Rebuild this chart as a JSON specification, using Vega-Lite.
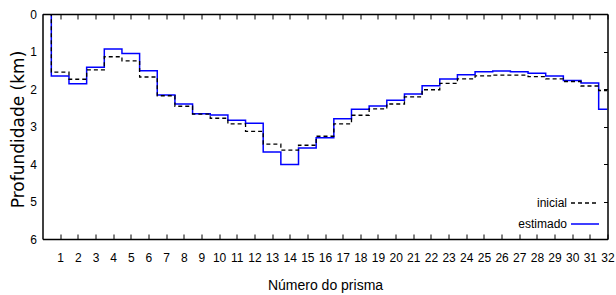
{
  "$schema": "https://vega.github.io/schema/vega-lite/v6.json",
  "width": 565,
  "height": 225,
  "autosize": {"type": "none"},
  "padding": {"left": 42.5, "top": 14, "right": 8.5, "bottom": 56},
  "background": "white",
  "config": {
    "view": {"stroke": null},
    "axis": {"grid": false, "domainColor": "#000000", "domainWidth": 1.5, "tickColor": "#000000", "tickWidth": 1, "labelColor": "#000000", "titleColor": "#000000", "labelFont": "Liberation Sans", "labelFontSize": 12, "titleFontWeight": "normal"}
  },
  "data": {
    "values": [
      {"prisma": 0, "serie": "estimado", "prof": 0},
      {"prisma": 1, "serie": "estimado", "prof": 1.65},
      {"prisma": 2, "serie": "estimado", "prof": 1.86},
      {"prisma": 3, "serie": "estimado", "prof": 1.42},
      {"prisma": 4, "serie": "estimado", "prof": 0.93},
      {"prisma": 5, "serie": "estimado", "prof": 1.05},
      {"prisma": 6, "serie": "estimado", "prof": 1.51},
      {"prisma": 7, "serie": "estimado", "prof": 2.16},
      {"prisma": 8, "serie": "estimado", "prof": 2.40},
      {"prisma": 9, "serie": "estimado", "prof": 2.66},
      {"prisma": 10, "serie": "estimado", "prof": 2.69},
      {"prisma": 11, "serie": "estimado", "prof": 2.83},
      {"prisma": 12, "serie": "estimado", "prof": 2.91},
      {"prisma": 13, "serie": "estimado", "prof": 3.68},
      {"prisma": 14, "serie": "estimado", "prof": 4.01},
      {"prisma": 15, "serie": "estimado", "prof": 3.57},
      {"prisma": 16, "serie": "estimado", "prof": 3.30},
      {"prisma": 17, "serie": "estimado", "prof": 2.79},
      {"prisma": 18, "serie": "estimado", "prof": 2.54},
      {"prisma": 19, "serie": "estimado", "prof": 2.45},
      {"prisma": 20, "serie": "estimado", "prof": 2.30},
      {"prisma": 21, "serie": "estimado", "prof": 2.13},
      {"prisma": 22, "serie": "estimado", "prof": 1.91},
      {"prisma": 23, "serie": "estimado", "prof": 1.73},
      {"prisma": 24, "serie": "estimado", "prof": 1.62},
      {"prisma": 25, "serie": "estimado", "prof": 1.54},
      {"prisma": 26, "serie": "estimado", "prof": 1.52},
      {"prisma": 27, "serie": "estimado", "prof": 1.54},
      {"prisma": 28, "serie": "estimado", "prof": 1.58},
      {"prisma": 29, "serie": "estimado", "prof": 1.65},
      {"prisma": 30, "serie": "estimado", "prof": 1.77},
      {"prisma": 31, "serie": "estimado", "prof": 1.84},
      {"prisma": 32, "serie": "estimado", "prof": 2.54},
      {"prisma": 0, "serie": "inicial", "prof": 0},
      {"prisma": 1, "serie": "inicial", "prof": 1.55},
      {"prisma": 2, "serie": "inicial", "prof": 1.74},
      {"prisma": 3, "serie": "inicial", "prof": 1.49},
      {"prisma": 4, "serie": "inicial", "prof": 1.14},
      {"prisma": 5, "serie": "inicial", "prof": 1.25},
      {"prisma": 6, "serie": "inicial", "prof": 1.68},
      {"prisma": 7, "serie": "inicial", "prof": 2.18},
      {"prisma": 8, "serie": "inicial", "prof": 2.46},
      {"prisma": 9, "serie": "inicial", "prof": 2.67},
      {"prisma": 10, "serie": "inicial", "prof": 2.78},
      {"prisma": 11, "serie": "inicial", "prof": 2.93},
      {"prisma": 12, "serie": "inicial", "prof": 3.13},
      {"prisma": 13, "serie": "inicial", "prof": 3.47},
      {"prisma": 14, "serie": "inicial", "prof": 3.63},
      {"prisma": 15, "serie": "inicial", "prof": 3.50},
      {"prisma": 16, "serie": "inicial", "prof": 3.26},
      {"prisma": 17, "serie": "inicial", "prof": 2.93},
      {"prisma": 18, "serie": "inicial", "prof": 2.70},
      {"prisma": 19, "serie": "inicial", "prof": 2.53},
      {"prisma": 20, "serie": "inicial", "prof": 2.40},
      {"prisma": 21, "serie": "inicial", "prof": 2.21},
      {"prisma": 22, "serie": "inicial", "prof": 2.02},
      {"prisma": 23, "serie": "inicial", "prof": 1.85},
      {"prisma": 24, "serie": "inicial", "prof": 1.73},
      {"prisma": 25, "serie": "inicial", "prof": 1.65},
      {"prisma": 26, "serie": "inicial", "prof": 1.63},
      {"prisma": 27, "serie": "inicial", "prof": 1.63},
      {"prisma": 28, "serie": "inicial", "prof": 1.67},
      {"prisma": 29, "serie": "inicial", "prof": 1.73},
      {"prisma": 30, "serie": "inicial", "prof": 1.80},
      {"prisma": 31, "serie": "inicial", "prof": 1.92},
      {"prisma": 32, "serie": "inicial", "prof": 2.04}
    ]
  },
  "resolve": {"axis": {"x": "independent", "y": "independent"}},
  "layer": [
    {
      "transform": [{"filter": "datum.serie === 'estimado'"}],
      "mark": {"type": "line", "interpolate": "step", "strokeWidth": 1.5, "clip": true},
      "encoding": {
        "x": {"field": "prisma", "type": "quantitative", "scale": {"domain": [0, 32], "nice": false, "zero": false},
          "axis": {"orient": "bottom", "values": [1,2,3,4,5,6,7,8,9,10,11,12,13,14,15,16,17,18,19,20,21,22,23,24,25,26,27,28,29,30,31,32], "tickSize": -5, "labelPadding": 18, "labelFlush": false, "labelOverlap": false, "title": "Número do prisma", "titleFont": "Liberation Sans", "titleFontSize": 14, "titleX": 282.5, "titleY": 50, "titleBaseline": "alphabetic", "titleAlign": "center", "zindex": 1}},
        "y": {"field": "prof", "type": "quantitative", "scale": {"domain": [0, 6], "nice": false, "reverse": true},
          "axis": {"orient": "left", "values": [0,1,2,3,4,5,6], "ticks": false, "labelPadding": 6, "title": "Profundidade (km)", "titleFont": "DejaVu Sans", "titleFontSize": 17, "titleAngle": -90, "titleX": -24.5, "titleY": 115, "titleAlign": "center", "titleBaseline": "middle", "zindex": 1}},
        "color": {"field": "serie", "type": "nominal", "scale": {"domain": ["inicial", "estimado"], "range": ["#000000", "#0000ff"]},
          "legend": {"orient": "none", "legendX": 527.5, "legendY": 174, "title": null, "symbolType": "stroke", "symbolSize": 784, "symbolStrokeWidth": 1.5, "labelAlign": "right", "labelOffset": -33, "labelFont": "Liberation Sans", "labelFontSize": 12, "labelColor": "#000000", "padding": 0, "rowPadding": -2}},
        "strokeDash": {"field": "serie", "type": "nominal", "scale": {"domain": ["inicial", "estimado"], "range": [[4, 3], [1, 0]]},
          "legend": {"orient": "none", "legendX": 527.5, "legendY": 174, "title": null, "symbolType": "stroke", "symbolSize": 784, "symbolStrokeWidth": 1.5, "labelAlign": "right", "labelOffset": -33, "labelFont": "Liberation Sans", "labelFontSize": 12, "labelColor": "#000000", "padding": 0, "rowPadding": -2}}
      }
    },
    {
      "transform": [{"filter": "datum.serie === 'inicial'"}],
      "mark": {"type": "line", "interpolate": "step", "strokeWidth": 1.3, "clip": true},
      "encoding": {
        "x": {"field": "prisma", "type": "quantitative",
          "axis": {"orient": "top", "values": [1,2,3,4,5,6,7,8,9,10,11,12,13,14,15,16,17,18,19,20,21,22,23,24,25,26,27,28,29,30,31,32], "tickSize": -5, "labels": false, "title": null, "zindex": 1}},
        "y": {"field": "prof", "type": "quantitative",
          "axis": {"orient": "right", "values": [1,2,3,4,5], "tickSize": -4, "labels": false, "title": null, "zindex": 1}},
        "color": {"field": "serie", "type": "nominal"},
        "strokeDash": {"field": "serie", "type": "nominal"}
      }
    }
  ]
}
